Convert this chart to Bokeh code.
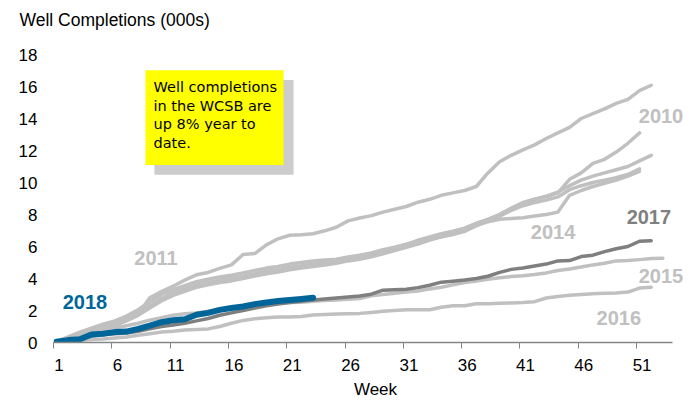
from bokeh.plotting import figure
from bokeh.models import FixedTicker, Label, Range1d, Title
from bokeh.embed import file_html
from bokeh.resources import INLINE

# ---------------- data (thousands of wells, cumulative by week) ----------------
y2010 = [0.05,0.35,0.65,0.9,1.15,1.35,1.65,2.05,2.55,3.0,3.3,3.55,3.8,3.95,4.1,4.2,4.35,4.5,4.65,4.75,
         4.9,5.0,5.1,5.15,5.2,5.35,5.45,5.6,5.8,5.95,6.15,6.35,6.55,6.7,6.9,7.1,7.45,7.7,8.0,8.4,
         8.75,8.95,9.1,9.35,10.2,10.6,11.2,11.45,11.9,12.45,13.1]
y2011 = [0.05,0.25,0.5,0.75,0.95,1.15,1.4,1.75,2.8,3.18,3.52,3.9,4.23,4.38,4.63,4.85,5.5,5.56,6.1,6.48,
         6.7,6.73,6.8,6.98,7.2,7.6,7.78,7.93,8.15,8.33,8.5,8.77,8.95,9.2,9.35,9.5,9.75,10.6,11.3,11.7,
         12.04,12.35,12.75,13.1,13.45,14.0,14.3,14.6,14.94,15.2,15.74,16.08]
y2012 = [0.05,0.3,0.55,0.8,1.0,1.2,1.5,1.85,2.3,2.75,3.1,3.35,3.6,3.75,3.9,4.0,4.15,4.3,4.45,4.55,
         4.7,4.8,4.9,4.97,5.05,5.2,5.3,5.45,5.65,5.85,6.1,6.4,6.6,6.8,6.95,7.15,7.45,7.7,8.0,8.35,
         8.7,8.95,9.15,9.4,9.8,10.15,10.4,10.6,10.8,11.0,11.35,11.7]
y2013 = [0.05,0.25,0.45,0.7,0.9,1.05,1.35,1.7,2.15,2.6,2.95,3.2,3.45,3.6,3.75,3.85,4.0,4.15,4.3,4.4,
         4.55,4.65,4.75,4.85,4.95,5.1,5.2,5.35,5.55,5.75,5.95,6.15,6.4,6.6,6.8,7.0,7.3,7.6,7.9,8.25,
         8.55,8.75,8.9,9.1,9.55,9.8,10.0,10.15,10.3,10.5,10.85]
y2014 = [0.05,0.25,0.5,0.75,0.95,1.15,1.45,1.8,2.25,2.7,3.0,3.3,3.55,3.7,3.85,3.95,4.1,4.25,4.4,4.5,
         4.65,4.75,4.85,4.9,5.0,5.15,5.25,5.4,5.6,5.8,6.0,6.25,6.45,6.6,6.75,6.95,7.3,7.55,7.7,7.75,
         7.8,7.9,8.0,8.15,9.2,9.5,9.75,9.95,10.15,10.4,10.7]
y2015 = [0.05,0.2,0.4,0.6,0.75,0.9,1.05,1.2,1.4,1.55,1.7,1.8,1.85,1.95,2.05,2.15,2.25,2.32,2.4,2.45,
         2.5,2.52,2.58,2.62,2.65,2.7,2.75,2.92,3.0,3.08,3.15,3.22,3.35,3.45,3.6,3.75,3.85,3.95,4.05,4.12,
         4.17,4.25,4.35,4.5,4.6,4.72,4.85,4.95,5.1,5.12,5.18,5.25,5.27]
y2016 = [0.02,0.08,0.12,0.18,0.22,0.28,0.35,0.45,0.55,0.65,0.7,0.78,0.82,0.85,1.0,1.2,1.38,1.48,1.55,1.6,
         1.6,1.62,1.72,1.75,1.78,1.8,1.82,1.88,1.95,2.0,2.04,2.04,2.05,2.2,2.3,2.3,2.42,2.42,2.45,2.47,
         2.5,2.55,2.78,2.88,2.95,3.0,3.04,3.08,3.1,3.15,3.4,3.46]
y2017 = [0.02,0.1,0.2,0.4,0.5,0.55,0.6,0.7,0.85,1.0,1.1,1.2,1.35,1.5,1.7,1.85,2.0,2.15,2.3,2.4,
         2.5,2.58,2.65,2.72,2.78,2.84,2.9,3.02,3.27,3.3,3.33,3.43,3.58,3.77,3.83,3.9,4.0,4.14,4.38,4.57,
         4.66,4.78,4.9,5.1,5.12,5.37,5.46,5.68,5.86,6.0,6.33,6.36]
y2018 = [0.05,0.15,0.2,0.5,0.55,0.65,0.68,0.85,1.05,1.27,1.39,1.45,1.73,1.85,2.04,2.16,2.25,2.4,2.5,2.59,
         2.65,2.72,2.8]

week_labels = [1, 6, 11, 16, 21, 26, 31, 36, 41, 46, 51]
y_ticks = [0, 2, 4, 6, 8, 10, 12, 14, 16, 18]

title_text = "Well Completions (000s)"
x_title = "Week"
note_lines = ["Well completions", "in the WCSB are", "up 8% year to", "date."]

LIGHT = "#C0C0C0"
DARK = "#7F7F7F"
BLUE = "#006699"
FONT = "Liberation Sans"

# ---------------- figure ----------------
p = figure(width=697, height=401, output_backend="svg", toolbar_location=None, title=None,
           x_range=Range1d(0.743, 55.97), y_range=Range1d(0, 18),
           min_border_left=53, min_border_right=0, min_border_top=54, min_border_bottom=55)
p.outline_line_color = None
p.background_fill_color = "white"
p.border_fill_color = "white"
p.xgrid.visible = False
p.ygrid.visible = False

# spacer (closest to the frame) then the real title above it
p.add_layout(Title(text=" ", text_font_size="1px", standoff=20), "above")
p.add_layout(Title(text=title_text, align="left", vertical_align="top", offset=-34, standoff=0,
                   text_font=FONT, text_font_size="17.5px", text_font_style="normal",
                   text_color="black"), "above")

# x axis: labels centred in categories, tick marks between them
xa = p.xaxis[0]
xa.bounds = (0.743, 53.83)
xa.ticker = FixedTicker(ticks=[w + 0.22 for w in week_labels],
                        minor_ticks=[w - 0.257 for w in week_labels])
xa.major_label_overrides = {w + 0.22: str(w) for w in week_labels}
xa.major_tick_line_color = None
xa.major_tick_out = 0
xa.major_tick_in = 0
xa.minor_tick_out = 6
xa.minor_tick_in = 0
xa.minor_tick_line_color = "#868686"
xa.minor_tick_line_width = 1
xa.axis_line_color = "#868686"
xa.axis_line_width = 1.5
xa.major_label_standoff = 10
xa.major_label_text_font = FONT
xa.major_label_text_font_size = "17px"
xa.major_label_text_color = "black"
xa.axis_label = x_title
xa.axis_label_standoff = 6
xa.axis_label_text_font = FONT
xa.axis_label_text_font_size = "17px"
xa.axis_label_text_font_style = "normal"
xa.axis_label_text_color = "black"

ya = p.yaxis[0]
ya.ticker = FixedTicker(ticks=y_ticks)
ya.axis_line_color = None
ya.major_tick_line_color = None
ya.minor_tick_line_color = None
ya.major_tick_out = 0
ya.major_tick_in = 0
ya.major_label_standoff = 16
ya.major_label_text_font = FONT
ya.major_label_text_font_size = "17px"
ya.major_label_text_color = "black"

# ---------------- lines ----------------
def weeks(vals):
    return list(range(1, len(vals) + 1))

for vals in [y2010, y2011, y2012, y2013, y2014, y2015, y2016]:
    p.line(weeks(vals), vals, line_color=LIGHT, line_width=3.5, line_join="round", line_cap="round")
p.line(weeks(y2017), y2017, line_color=DARK, line_width=3.5, line_join="round", line_cap="round")
p.line(weeks(y2018), y2018, line_color=BLUE, line_width=6, line_join="round", line_cap="round")

# ---------------- note box ----------------
p.quad(left=[9.40], right=[21.33], top=[16.40], bottom=[10.48], fill_color="#CCCCCC", line_color=None)
p.quad(left=[8.63], right=[20.47], top=[17.02], bottom=[11.10], fill_color="#FFFF00", line_color=None)
for i, line in enumerate(note_lines):
    p.add_layout(Label(x=9.32, y=15.97 - i * 1.17, text=line, text_font="DejaVu Sans",
                       text_font_size="14.5px", text_color="black", text_baseline="middle",
                       text_align="left"))

# ---------------- year labels ----------------
year_labels = [
    ("2011", 9.53, 5.27, LIGHT),
    ("2018", 3.44, 2.55, BLUE),
    ("2010", 52.84, 14.17, LIGHT),
    ("2014", 43.58, 6.92, LIGHT),
    ("2017", 51.80, 7.87, DARK),
    ("2015", 52.83, 4.17, LIGHT),
    ("2016", 49.22, 1.55, LIGHT),
]
for txt, x, y, c in year_labels:
    p.add_layout(Label(x=x, y=y, text=txt, text_font=FONT, text_font_size="20px",
                       text_font_style="bold", text_color=c, text_align="center",
                       text_baseline="middle"))

open("out.html", "w").write(file_html(p, INLINE))
